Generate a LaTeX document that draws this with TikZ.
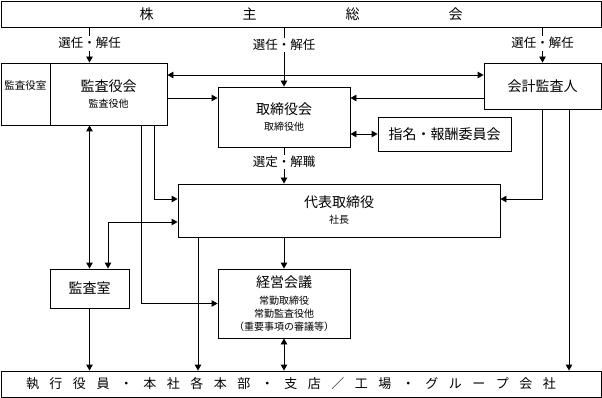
\documentclass[tikz,border=0pt]{standalone}
\usepackage{fontspec}
\setmainfont{Noto Sans CJK JP}
\usetikzlibrary{arrows.meta}
\newcommand\gsp{\hspace{10.5pt}}
\begin{document}
\begin{tikzpicture}[x=1pt,y=-1pt,
  box/.style={draw,line width=0.9pt,inner sep=0pt,align=center,font=\fontsize{14}{16}\selectfont},
  sub/.style={font=\fontsize{10}{12}\selectfont},
  lbl/.style={fill=white,inner sep=1.5pt,font=\fontsize{12.5}{15}\selectfont},
  conn/.style={line width=0.9pt},
  arr/.style={conn,-{Triangle[length=6pt,width=6.5pt]}},
  dbl/.style={conn,{Triangle[length=6pt,width=6.5pt]}-{Triangle[length=6pt,width=6.5pt]}}]
\fill[white] (0,0) rectangle (602,398);
\useasboundingbox (0,0) rectangle (602,398);

\node[box,minimum width=600pt,minimum height=26pt] (sh) at (301,14)
  {株\hspace{89pt}主\hspace{89pt}総\hspace{89pt}会};
\node[box,minimum width=49pt,minimum height=62pt,font=\fontsize{10.5}{12}\selectfont] (kr) at (25.5,94) {監査役室\\[5pt]};
\node[box,minimum width=117pt,minimum height=62pt] (kk) at (108.5,94)
  {監査役会\\{\fontsize{10}{12}\selectfont 監査役他}};
\node[box,minimum width=132pt,minimum height=60pt] (tk) at (284,117)
  {取締役会\\{\fontsize{10}{12}\selectfont 取締役他}};
\node[box,minimum width=117pt,minimum height=46pt] (ka) at (542.5,86) {会計監査人};
\node[box,minimum width=133pt,minimum height=34pt] (sm) at (444.5,134) {指名・報酬委員会};
\node[box,minimum width=322pt,minimum height=53pt] (dt) at (339,210.5)
  {代表取締役\\{\fontsize{10}{12}\selectfont 社長}};
\node[box,minimum width=79pt,minimum height=39pt] (ks) at (89.5,288.5) {監査室};
\node[box,minimum width=132pt,minimum height=69pt] (kg) at (284,303.5)
  {経営会議\\[1pt]{\fontsize{10}{12}\selectfont 常勤取締役}\\[-3pt]{\fontsize{10}{12}\selectfont 常勤監査役他}\\[-3pt]{\fontsize{10}{12}\selectfont （重要事項の審議等）}};
\node[box,minimum width=600pt,minimum height=26pt,font=\fontsize{13}{15}\selectfont] (bt) at (301,384)
  {\kern-20pt 執\gsp 行\gsp 役\gsp 員\gsp ・\gsp 本\gsp 社\gsp 各\gsp 本\gsp 部\gsp ・\gsp 支\gsp 店\gsp ／\gsp 工\gsp 場\gsp ・\gsp グ\gsp ル\gsp ー\gsp プ\gsp 会\gsp 社};

% from shareholders
\draw[arr] (sh.south -| ks.north) -- node[lbl,pos=0.45] {選任・解任} (kk.north -| ks.north);
\draw[arr] (sh.south -| tk.north) -- node[lbl,pos=0.3] {選任・解任} (tk.north);
\draw[arr] (sh.south -| ka.north) -- node[lbl,pos=0.45] {選任・解任} (ka.north);
% kk <-> ka
\draw[dbl] (kk.east |- 0,75) -- (ka.west |- 0,75);
\draw[arr] (kk.east |- 0,98) -- (tk.west |- 0,98);
\draw[arr] (ka.west |- 0,98) -- (tk.east |- 0,98);
\draw[dbl] (tk.east |- sm.west) -- (sm.west);
\draw[arr] (tk.south) -- node[lbl,pos=0.4] {選定・解職} (dt.north -| tk.south);
% kk down
\draw[arr] (kk.south -| 154,0) |- (dt.west |- 0,199);
\draw[arr] (kk.south -| 141,0) |- (kg.west);
\draw[dbl] (kk.south -| ks.north) -- (ks.north);
\draw[dbl] (dt.west |- 0,222) -| (ks.north -| 108,0);
% dt down
\draw[arr] (dt.south -| 198,0) -- (bt.north -| 198,0);
\draw[arr] (dt.south -| kg.north) -- (kg.north);
% ka down
\draw[arr] (ka.south) |- (dt.east |- 0,199);
\draw[arr] (ka.south -| 569,0) -- (bt.north -| 569,0);
% to bottom
\draw[dbl] (kg.south) -- (bt.north -| kg.south);
\draw[arr] (ks.south) -- (bt.north -| ks.south);
\end{tikzpicture}
\end{document}
